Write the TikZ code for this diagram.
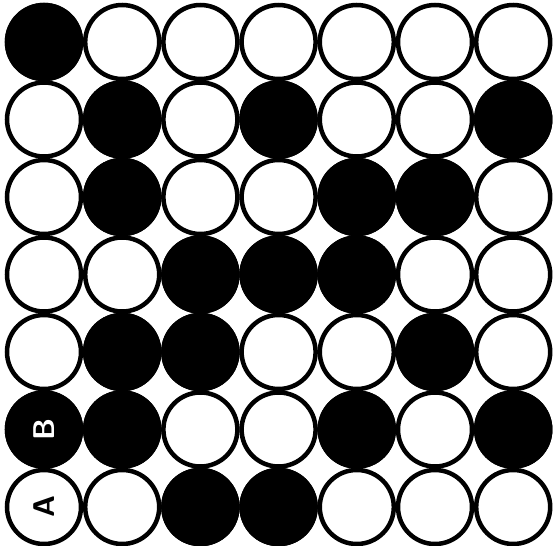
\documentclass[tikz,border=0pt]{standalone}
\begin{document}
\begin{tikzpicture}[x=1pt,y=-1pt,
  disc/.style={circle,draw=black,line width=4.5pt,minimum size=74pt,inner sep=0pt},
  wdisc/.style={disc,fill=white},
  bdisc/.style={disc,fill=black},
  lbl/.style={font=\sffamily\bfseries\fontsize{30}{30}\selectfont,rotate=90}]
\useasboundingbox (0,0) rectangle (560,546);
\foreach \r in {1,...,7}{
  \foreach \c in {1,...,7}{
    \node[wdisc] (n\r\c) at ({44+(\c-1)*78.2},{42+(\r-1)*77.5}) {};
  }
}
\foreach \r/\c in {1/1, 2/2,2/4,2/7, 3/2,3/5,3/6, 4/3,4/4,4/5, 5/2,5/3,5/6, 6/1,6/2,6/5,6/7, 7/3,7/4}{
  \node[bdisc] (b\r\c) at (n\r\c.center) {};
}
\node[lbl,text=black] (la) at (n71.center) {A};
\node[lbl,text=white] (lb) at (n61.center) {B};
\end{tikzpicture}
\end{document}
